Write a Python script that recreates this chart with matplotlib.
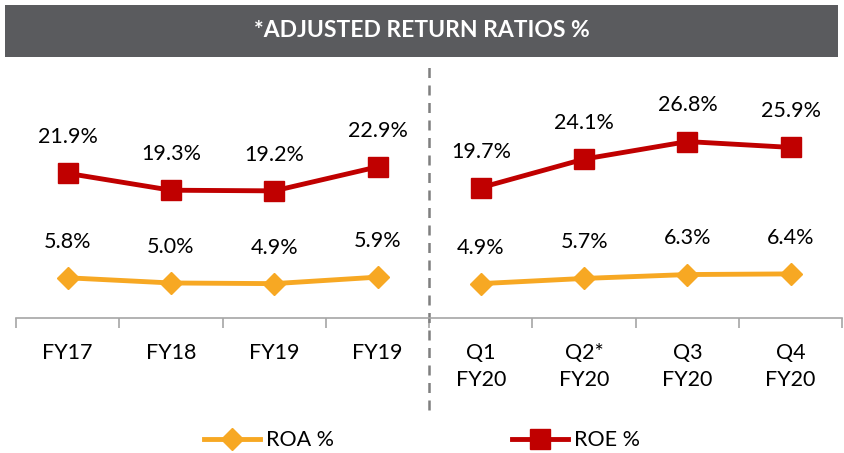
import matplotlib
matplotlib.use("Agg")
import matplotlib.pyplot as plt
from matplotlib.patches import Rectangle

plt.rcParams['font.family'] = ['Lato', 'DejaVu Sans']

# data
categories = ["FY17", "FY18", "FY19", "FY19", "Q1\nFY20", "Q2*\nFY20", "Q3\nFY20", "Q4\nFY20"]
roa = [5.8, 5.0, 4.9, 5.9, 4.9, 5.7, 6.3, 6.4]
roe = [21.9, 19.3, 19.2, 22.9, 19.7, 24.1, 26.8, 25.9]
n_years = 4  # first four points are yearly, rest quarterly
title = "*ADJUSTED RETURN RATIOS %"

roa_color = "#f7a823"
roe_color = "#c00000"

fig = plt.figure(figsize=(8.44, 4.53), dpi=100)

# dark title band
fig.patches.append(Rectangle((0.006, 0.874), 0.987, 0.115, transform=fig.transFigure,
                             facecolor="#5a5b5e", edgecolor="none", zorder=0))
fig.text(0.5, 0.932, title, color="white", fontsize=16.5, fontweight="bold",
         ha="center", va="center")

ax = fig.add_axes([0.019, 0.298, 0.979, 0.547])
x = list(range(len(categories)))

# yearly and quarterly series are drawn as separate segments
for part in (slice(0, n_years), slice(n_years, None)):
    l1, = ax.plot(x[part], roa[part], color=roa_color, lw=3.5, marker="D",
                  markersize=11, label="ROA %", clip_on=False)
    l2, = ax.plot(x[part], roe[part], color=roe_color, lw=3.5, marker="s",
                  markersize=14, label="ROE %", clip_on=False)

for xi, v in zip(x, roa):
    ax.annotate(f"{v:.1f}%", (xi, v), xytext=(0, 26), textcoords="offset points",
                ha="center", va="center", fontsize=15.5)
for xi, v in zip(x, roe):
    ax.annotate(f"{v:.1f}%", (xi, v), xytext=(0, 26), textcoords="offset points",
                ha="center", va="center", fontsize=15.5)

ax.set_xlim(-0.5, len(categories) - 0.5)
ax.set_ylim(-0.4, 37.8)

for s in ["top", "right", "left"]:
    ax.spines[s].set_visible(False)
ax.spines["bottom"].set_color("#a6a6a6")
ax.spines["bottom"].set_linewidth(1.2)
ax.set_yticks([])

ax.set_xticks(x)
ax.set_xticklabels(categories, fontsize=15.5, linespacing=1.45, va="top")
ax.tick_params(axis="x", which="major", length=0, pad=18)
ax.set_xticks([i - 0.5 for i in range(len(categories) + 1)], minor=True)
ax.tick_params(axis="x", which="minor", length=7, color="#a6a6a6", width=1.2)

# divider between yearly and quarterly figures
ax.axvline(3.5, ymin=-0.37, ymax=1.02, clip_on=False, color="#7f7f7f",
           lw=1.8, ls=(0, (4, 3)))

fig.legend(handles=[l1, l2], loc="center", bbox_to_anchor=(0.5, 0.028), ncol=2,
           frameon=False, fontsize=15.5, handlelength=2.6, handletextpad=0.25,
           columnspacing=8.3)

fig.savefig("out.png", dpi=100)
